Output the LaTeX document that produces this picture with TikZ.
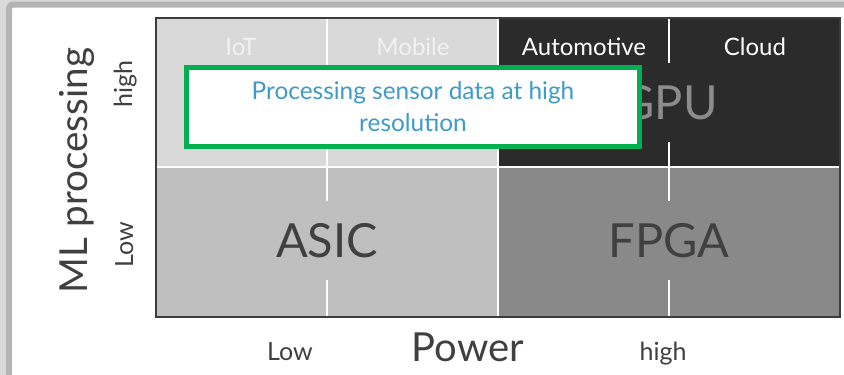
\documentclass[tikz,border=0pt]{standalone}
\usepackage{fontspec}
\setmainfont{Lato}
\definecolor{pagegray}{HTML}{D9D9D9}
\definecolor{rimgray}{HTML}{B4B4B4}
\definecolor{quadTL}{HTML}{D9D9D9}
\definecolor{quadTR}{HTML}{2B2B2B}
\definecolor{quadBL}{HTML}{BFBFBF}
\definecolor{quadBR}{HTML}{898989}
\definecolor{framegray}{HTML}{3C3C3C}
\definecolor{txtdark}{HTML}{404040}
\definecolor{gpugray}{HTML}{8C8C8C}
\definecolor{paletext}{HTML}{F2F2F2}
\definecolor{notegreen}{HTML}{00B050}
\definecolor{noteblue}{HTML}{3E9BC5}
\tikzset{
  bigcat/.style={font=\fontsize{47}{56}\selectfont, text=txtdark, inner xsep=4pt,
    inner ysep=0pt, minimum height=79pt, text height=34pt, text depth=0pt},
  market/.style={font=\fontsize{24}{28}\selectfont, anchor=base, inner sep=0pt},
  axislbl/.style={font=\fontsize{25}{30}\selectfont, text=txtdark, anchor=base, inner sep=0pt},
  axistitle/.style={font=\fontsize{40}{48}\selectfont, text=txtdark, anchor=base, inner sep=0pt},
  divider/.style={white, line width=2pt},
}
\begin{document}
\begin{tikzpicture}[x=1pt, y=-1pt]
  \useasboundingbox (0,0) rectangle (844,375);
  % slide background and rounded rim
  \fill[pagegray] (0,0) rectangle (844,375);
  \draw[rimgray, line width=6pt, rounded corners=4pt, fill=white] (9,4.5) rectangle (870,400);

  % four quadrants
  \fill[quadTL] (156,18) rectangle (498,167);
  \fill[quadTR] (498,18) rectangle (840,167);
  \fill[quadBL] (156,167) rectangle (498,317);
  \fill[quadBR] (498,167) rectangle (840,317);

  % white separators
  \draw[divider] (156,167) -- (840,167);
  \draw[divider] (498,18) -- (498,317);
  \draw[divider] (327,18) -- (327,317);
  \draw[divider] (669,18) -- (669,317);

  % market segments
  \node[market, text=paletext] (iot) at (241,55) {IoT};
  \node[market, text=paletext] (mobile) at (413,55) {Mobile};
  \node[market, text=white] (auto) at (584,55) {Automotive};
  \node[market, text=white] (cloud) at (755,55) {Cloud};

  % hardware categories
  \node[bigcat, fill=quadTR, text=gpugray] (gpu) at (669,102.5) {GPU};
  \node[bigcat, fill=quadBL] (asic) at (327,240.5) {ASIC};
  \node[bigcat, fill=quadBR] (fpga) at (669,240.5) {FPGA};

  % highlighted note
  \node[draw=notegreen, line width=4.5pt, fill=white, minimum width=453pt,
    minimum height=79pt, align=center, text=noteblue,
    font=\fontsize{24.4}{32}\selectfont] (note) at (413,107)
    {Processing sensor data at high\\resolution};

  % chart frame
  \draw[framegray, line width=2pt] (156,18) rectangle (840,317);

  % axes
  \node[axistitle, rotate=90, font=\fontsize{38.6}{46}\selectfont] (ytitle) at (87,170.5) {ML processing};
  \node[axislbl, rotate=90] (yhigh) at (132,84) {high};
  \node[axislbl, rotate=90] (ylow) at (133,245) {Low};
  \node[axislbl] (xlow) at (290,360) {Low};
  \node[axistitle] (xtitle) at (468,361) {Power};
  \node[axislbl] (xhigh) at (663,360) {high};
\end{tikzpicture}
\end{document}
